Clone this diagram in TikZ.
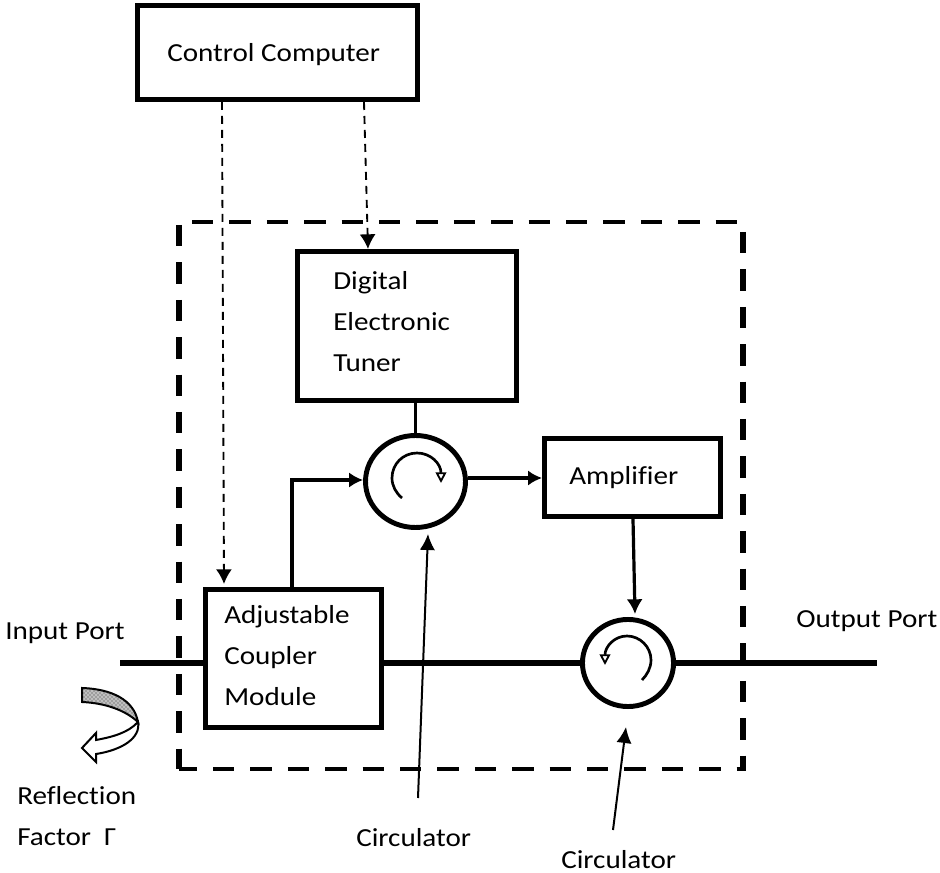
\documentclass[tikz,border=0pt]{standalone}
\usepackage{fontspec}
\setmainfont[FakeStretch=1.12,Ligatures=NoCommon]{Carlito}
\usetikzlibrary{arrows.meta,patterns,calc,shapes.geometric}
\tikzset{
  every picture/.style={x=0.75pt,y=-0.75pt},
  box/.style={draw=black,line width=3.7pt,fill=white,inner sep=0pt,anchor=north west},
  circ/.style={draw=black,line width=3.7pt,fill=white,ellipse,inner sep=0pt},
  txt/.style={inner sep=0pt,align=left,font=\fontsize{19.5pt}{30.8pt}\selectfont,text=black},
  mainline/.style={line width=4.8pt,black},
  ctl/.style={line width=1.4pt,dash pattern=on 6pt off 4.5pt,-{Latex[length=11pt,width=12pt]}},
  sig/.style={line width=3pt,-{Latex[length=10.5pt,width=11.5pt]}},
  sigdown/.style={line width=2.4pt,-{Latex[length=11pt,width=12pt]}},
  thin lead/.style={line width=1.5pt,-{Latex[length=12pt,width=11.5pt]}},
  spin/.style={line width=2pt,-{Triangle[open,fill=white,length=8pt,width=8pt,line width=1.4pt]}},
  frameV/.style={line width=4.4pt,dash pattern=on 16pt off 12.05pt},
  frameH/.style={line width=3.7pt,dash pattern=on 16pt off 12.05pt}
}
\begin{document}
\begin{tikzpicture}
\useasboundingbox (0,0) rectangle (940,873);
\draw[frameV] (179,225) -- (179,769);
\draw[frameV] (743,232) -- (743,769);
\draw[frameH] (192,222) -- (738,222);
\draw[frameH,dash phase=2.5pt] (179,769) -- (746,769);
% free ends
\coordinate (inEnd) at (120,663);
\coordinate (outEnd) at (877,663);
\coordinate (leadA) at (418,798);
\coordinate (leadB) at (613,830);
% boxes
\node[box,minimum width=210pt,minimum height=70.5pt] (cc) at (135,3) {};
\node[box,minimum width=164.3pt,minimum height=111.8pt] (tuner) at (295,249) {};
\node[box,minimum width=132pt,minimum height=58.5pt] (amp) at (542,436) {};
\node[box,minimum width=132pt,minimum height=103.5pt] (coupler) at (203,587) {};
\node[circ,minimum width=75pt,minimum height=69pt] (c1) at (415.5,481.5) {};
\node[circ,minimum width=68.3pt,minimum height=65.3pt] (c2) at (628,663) {};
% main line
\draw[mainline] (inEnd) -- (inEnd -| coupler.west);
\draw[mainline] (coupler.east |- inEnd) -- (c2.west);
\draw[mainline] (c2.east) -- (outEnd);
% control
\coordinate (ccA) at (222,102);
\coordinate (ccB) at (364,102);
\coordinate (ctlA) at (224,584);
\coordinate (ctlB) at (368,249);
\draw[ctl] (ccA) -- (ctlA);
\draw[ctl] (ccB) -- (ctlB);
% signal
\draw[line width=2.6pt] (tuner.south -| c1.north) -- (c1.north);
\coordinate (cpTop) at (292,587);
\draw[sig] (cpTop) -- (292,480) -- (c1.west |- 0,480);
\draw[sig] (c1.east |- 0,478) -- (amp.west |- 0,478);
\coordinate (ampBot) at (633,519);
\coordinate (c2Top) at (635,614);
\draw[sigdown] (ampBot) -- (c2Top);
% circulator spins
\draw[spin] (402,498) .. controls (396,493) and (392,486) .. (392,478) .. controls (392,464) and (403,453) .. (417,453) .. controls (431,453) and (441,464) .. (441,483);
\draw[spin] (642,680) .. controls (647,675) and (651,668) .. (651,660) .. controls (651,647) and (640,636) .. (627,636) .. controls (614,636) and (605,647) .. (605,665);
% pointer leads
\draw[thin lead] (leadA) -- (428,534);
\draw[thin lead] (leadB) -- (626,727);
% reflection arrow
\draw[line width=1.5pt,fill=black!25,postaction={pattern=crosshatch dots,pattern color=black!80}] (82,688) .. controls (112,689) and (134,700) .. (138,722) .. controls (125,710) and (105,703) .. (82,702) -- cycle;
\draw[line width=1.5pt,fill=white] (138,722) .. controls (128,733) and (112,737) .. (96,740) -- (96,733) -- (82,748) -- (96,762) -- (96,754) .. controls (122,750) and (141,738) .. (138,722) -- cycle;
% labels
\node[txt,anchor=base west] (tcc) at (167,62) {Control Computer};
\node[txt,anchor=north west] (ttuner) at (333,271) {Digital\\Electronic\\Tuner};
\node[txt,anchor=base west] (tamp) at (569,485) {Amplifier};
\node[txt,anchor=north west] (tcp) at (224,605) {Adjustable\\Coupler\\Module};
\node[txt,anchor=base west] (tin) at (5,640) {Input Port};
\node[txt,anchor=base west] (tout) at (796,628) {Output Port};
\node[txt,anchor=north west] (tref) at (17,786) {Reflection\\Factor\ \ Γ};
\node[txt,anchor=base west] (tc1) at (356,846) {Circulator};
\node[txt,anchor=base west] (tc2) at (561,868) {Circulator};
\end{tikzpicture}
\end{document}
